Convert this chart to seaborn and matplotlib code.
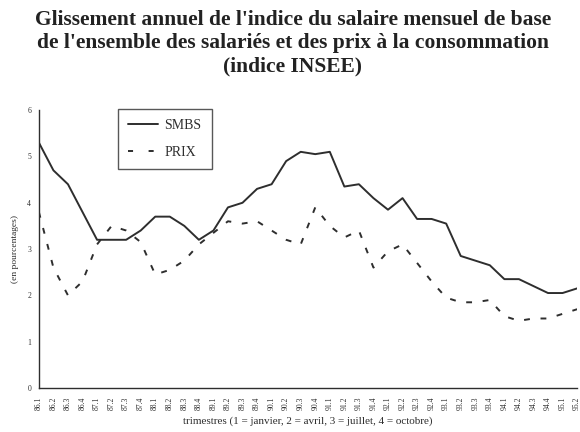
import numpy as np
import pandas as pd
import matplotlib
matplotlib.use("Agg")
import matplotlib.pyplot as plt
from matplotlib.lines import Line2D
import seaborn as sns

quarters = [f"{y}.{q}" for y in range(86, 96) for q in range(1, 5)][:38]
smbs = [5.3, 4.7, 4.4, 3.8, 3.2, 3.2, 3.2, 3.4, 3.7, 3.7, 3.5, 3.2, 3.4, 3.9,
        4.0, 4.3, 4.4, 4.9, 5.1, 5.05, 5.1, 4.35, 4.4, 4.1, 3.85, 4.1, 3.65,
        3.65, 3.55, 2.85, 2.75, 2.65, 2.35, 2.35, 2.2, 2.05, 2.05, 2.15]
prix = [3.8, 2.6, 2.0, 2.3, 3.1, 3.5, 3.4, 3.15, 2.45, 2.55, 2.75, 3.1, 3.35,
        3.6, 3.55, 3.6, 3.4, 3.2, 3.1, 3.9, 3.5, 3.25, 3.4, 2.6, 2.95, 3.1,
        2.7, 2.3, 1.95, 1.85, 1.85, 1.9, 1.55, 1.45, 1.5, 1.5, 1.6, 1.7]
series_names = ["SMBS", "PRIX"]

df = pd.DataFrame({
    "idx": list(range(len(quarters))) * 2,
    "val": smbs + prix,
    "serie": [series_names[0]] * len(smbs) + [series_names[1]] * len(prix),
})

sns.set_style("white")
plt.rcParams["font.family"] = ["Liberation Serif", "DejaVu Serif"]

ink = "#2e2e2e"
fig = plt.figure(figsize=(5.8, 4.32), dpi=100)
ax = fig.add_axes([0.067, 0.102, 0.928, 0.643])

sns.lineplot(data=df, x="idx", y="val", hue="serie", style="serie",
             palette={"SMBS": ink, "PRIX": ink},
             dashes={"SMBS": "", "PRIX": (3, 5.5)}, linewidth=1.4, ax=ax,
             legend=False)

ax.set_xlim(0, len(quarters) - 1)
ax.set_ylim(0, 6)
ax.set_xticks(range(len(quarters)))
ax.set_xticklabels(quarters, rotation=90, fontsize=5.5)
ax.set_yticks(range(0, 7))
ax.set_yticklabels([str(v) for v in range(0, 7)], fontsize=5.5)
ax.tick_params(axis="both", which="major", direction="inout", length=9,
               width=0.9, color=ink, labelcolor=ink, pad=1)
ax.tick_params(axis="x", pad=2)
for s in ["top", "right"]:
    ax.spines[s].set_visible(False)
for s in ["left", "bottom"]:
    ax.spines[s].set_color(ink)
    ax.spines[s].set_linewidth(1.0)

ax.set_xlabel("trimestres (1 = janvier, 2 = avril, 3 = juillet, 4 = octobre)",
              fontsize=8, labelpad=4, color=ink)
ax.set_ylabel("(en pourcentages)", fontsize=6.8, labelpad=6, color=ink)

handles = [Line2D([], [], color=ink, lw=1.4),
           Line2D([], [], color=ink, lw=1.4, dashes=(2.6, 8))]
leg = ax.legend(handles, series_names, loc="upper left",
                bbox_to_anchor=(0.147, 1.005), frameon=True, fancybox=False,
                edgecolor=ink, fontsize=10, handlelength=2.1,
                handletextpad=0.5, borderpad=0.75, labelspacing=1.0,
                borderaxespad=0)
leg.get_frame().set_linewidth(1.0)
for t in leg.get_texts():
    t.set_color(ink)

fig.text(0.505, 0.978,
         "Glissement annuel de l'indice du salaire mensuel de base\n"
         "de l'ensemble des salariés et des prix à la consommation\n"
         "(indice INSEE)",
         ha="center", va="top", fontsize=15.5, fontweight="bold",
         linespacing=1.22, color="#222222")

fig.savefig("out.png", dpi=100)
